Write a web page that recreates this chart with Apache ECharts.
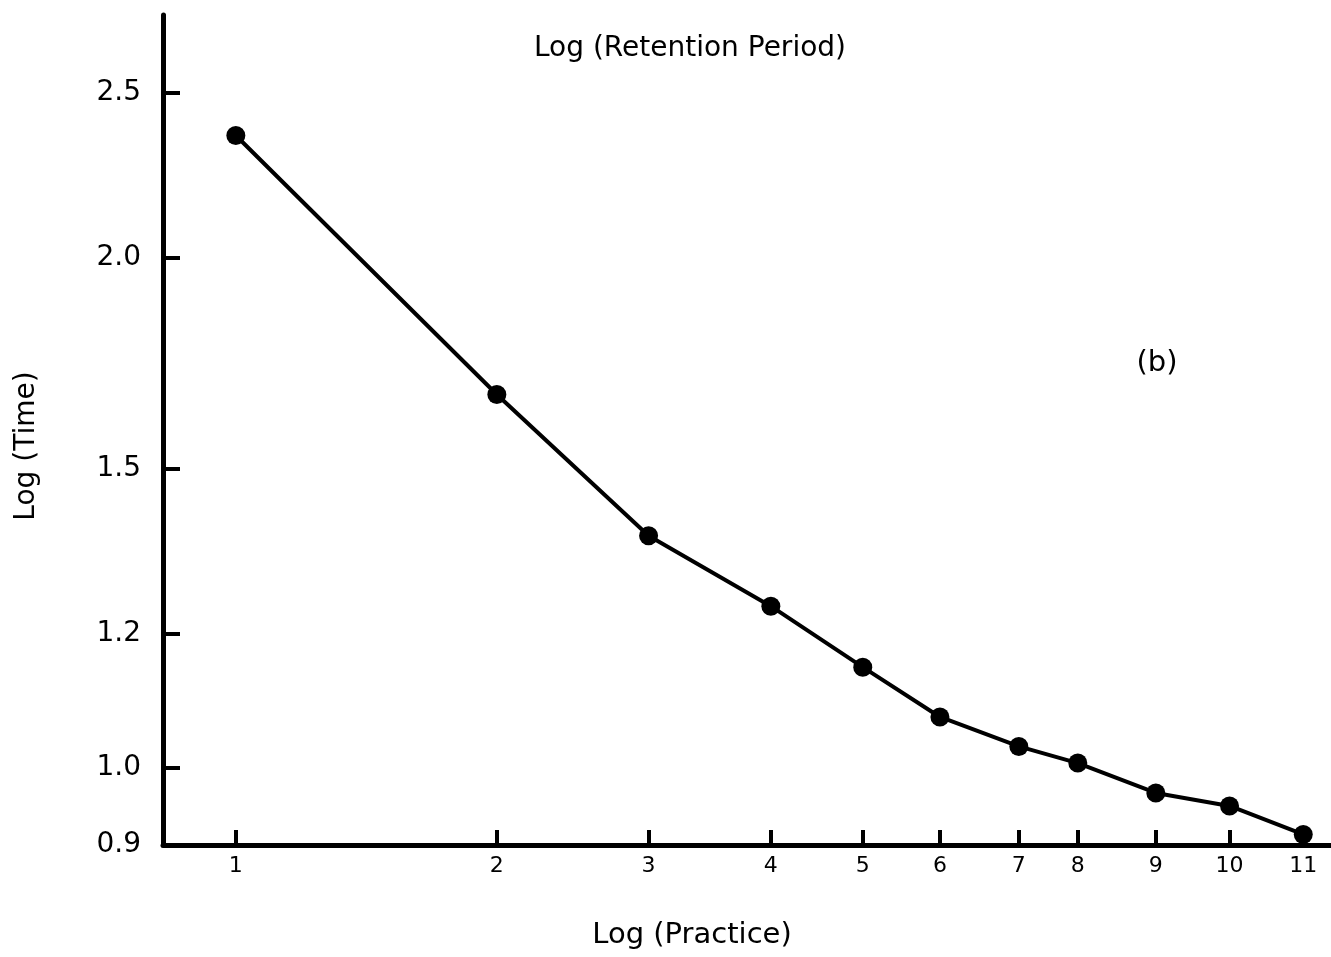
<!DOCTYPE html>
<html>
<head>
<meta charset="utf-8">
<script src="https://cdn.jsdelivr.net/npm/echarts@6/dist/echarts.min.js"></script>
<style>
  html, body { margin: 0; padding: 0; background: #ffffff; }
  #main { width: 1331px; height: 957px; }
</style>
</head>
<body>
<div id="main"></div>
<script>
// session labels under the x axis
const sessions = ['1', '2', '3', '4', '5', '6', '7', '8', '9', '10', '11'];
// position of each session along the x axis, log10 units
const logPractice = [0, 0.301, 0.476, 0.617, 0.723, 0.812, 0.903, 0.971, 1.061, 1.146, 1.231];
// time values
const times = [2.36, 1.66, 1.37, 1.245, 1.146, 1.071, 1.029, 1.006, 0.966, 0.949, 0.913];
// y tick labels
const timeTicks = [0.9, 1.0, 1.2, 1.5, 2.0, 2.5];

const FONT = 'DejaVu Sans';
const yMin = Math.log10(0.9);
const yMax = Math.log10(2.78);

var myChart = echarts.init(document.getElementById('main'));

const seriesData = logPractice.map((x, i) => [x, Math.log10(times[i])]);

myChart.setOption({
    animation: false,
    backgroundColor: '#ffffff',
    title: [
        {
            text: 'Log (Retention Period)',
            left: 685,
            top: 30,
            textAlign: 'center',
            textStyle: { fontFamily: FONT, fontSize: 28, fontWeight: 'normal', color: '#000' }
        },
        {
            text: '(b)',
            left: 1152,
            top: 344,
            textAlign: 'center',
            textStyle: { fontFamily: FONT, fontSize: 29, fontWeight: 'normal', color: '#000' }
        }
    ],
    grid: {
        left: 163,
        right: 0,
        top: 15,
        bottom: 112,
        containLabel: false,
        outerBoundsMode: 'none'
    },
    xAxis: {
        type: 'value',
        min: -0.084,
        max: 1.263,
        name: 'Log (Practice)',
        nameLocation: 'middle',
        nameGap: 76,
        nameTextStyle: {
            fontFamily: FONT, fontSize: 29, color: '#000',
            padding: [0, 110, 0, 0]
        },
        axisLine: { show: true, onZero: false, lineStyle: { color: '#000', width: 5 } },
        axisTick: {
            show: true,
            inside: true,
            length: 15,
            customValues: logPractice,
            lineStyle: { color: '#000', width: 4 }
        },
        axisLabel: {
            customValues: logPractice,
            margin: 10,
            fontFamily: FONT,
            fontSize: 22,
            color: '#000',
            formatter: function (v) {
                let best = 0;
                logPractice.forEach((p, i) => {
                    if (Math.abs(p - v) < Math.abs(logPractice[best] - v)) best = i;
                });
                return sessions[best];
            }
        },
        splitLine: { show: false }
    },
    yAxis: {
        type: 'value',
        min: yMin,
        max: yMax,
        name: 'Log (Time)',
        nameLocation: 'middle',
        nameGap: 122,
        nameTextStyle: {
            fontFamily: FONT, fontSize: 28, color: '#000',
            padding: [0, 32, 0, 0]
        },
        axisLine: { show: true, onZero: false, lineStyle: { color: '#000', width: 5 } },
        axisTick: {
            show: true,
            inside: true,
            length: 17,
            customValues: timeTicks.map(t => Math.log10(t)),
            lineStyle: { color: '#000', width: 4 }
        },
        axisLabel: {
            customValues: timeTicks.map(t => Math.log10(t)),
            margin: 22,
            fontFamily: FONT,
            fontSize: 28,
            color: '#000',
            formatter: function (v) {
                return Math.pow(10, v).toFixed(1);
            }
        },
        splitLine: { show: false }
    },
    series: [
        {
            type: 'line',
            data: seriesData,
            symbol: 'circle',
            symbolSize: 19,
            itemStyle: { color: '#000' },
            lineStyle: { color: '#000', width: 4 }
        }
    ]
});
</script>
</body>
</html>
